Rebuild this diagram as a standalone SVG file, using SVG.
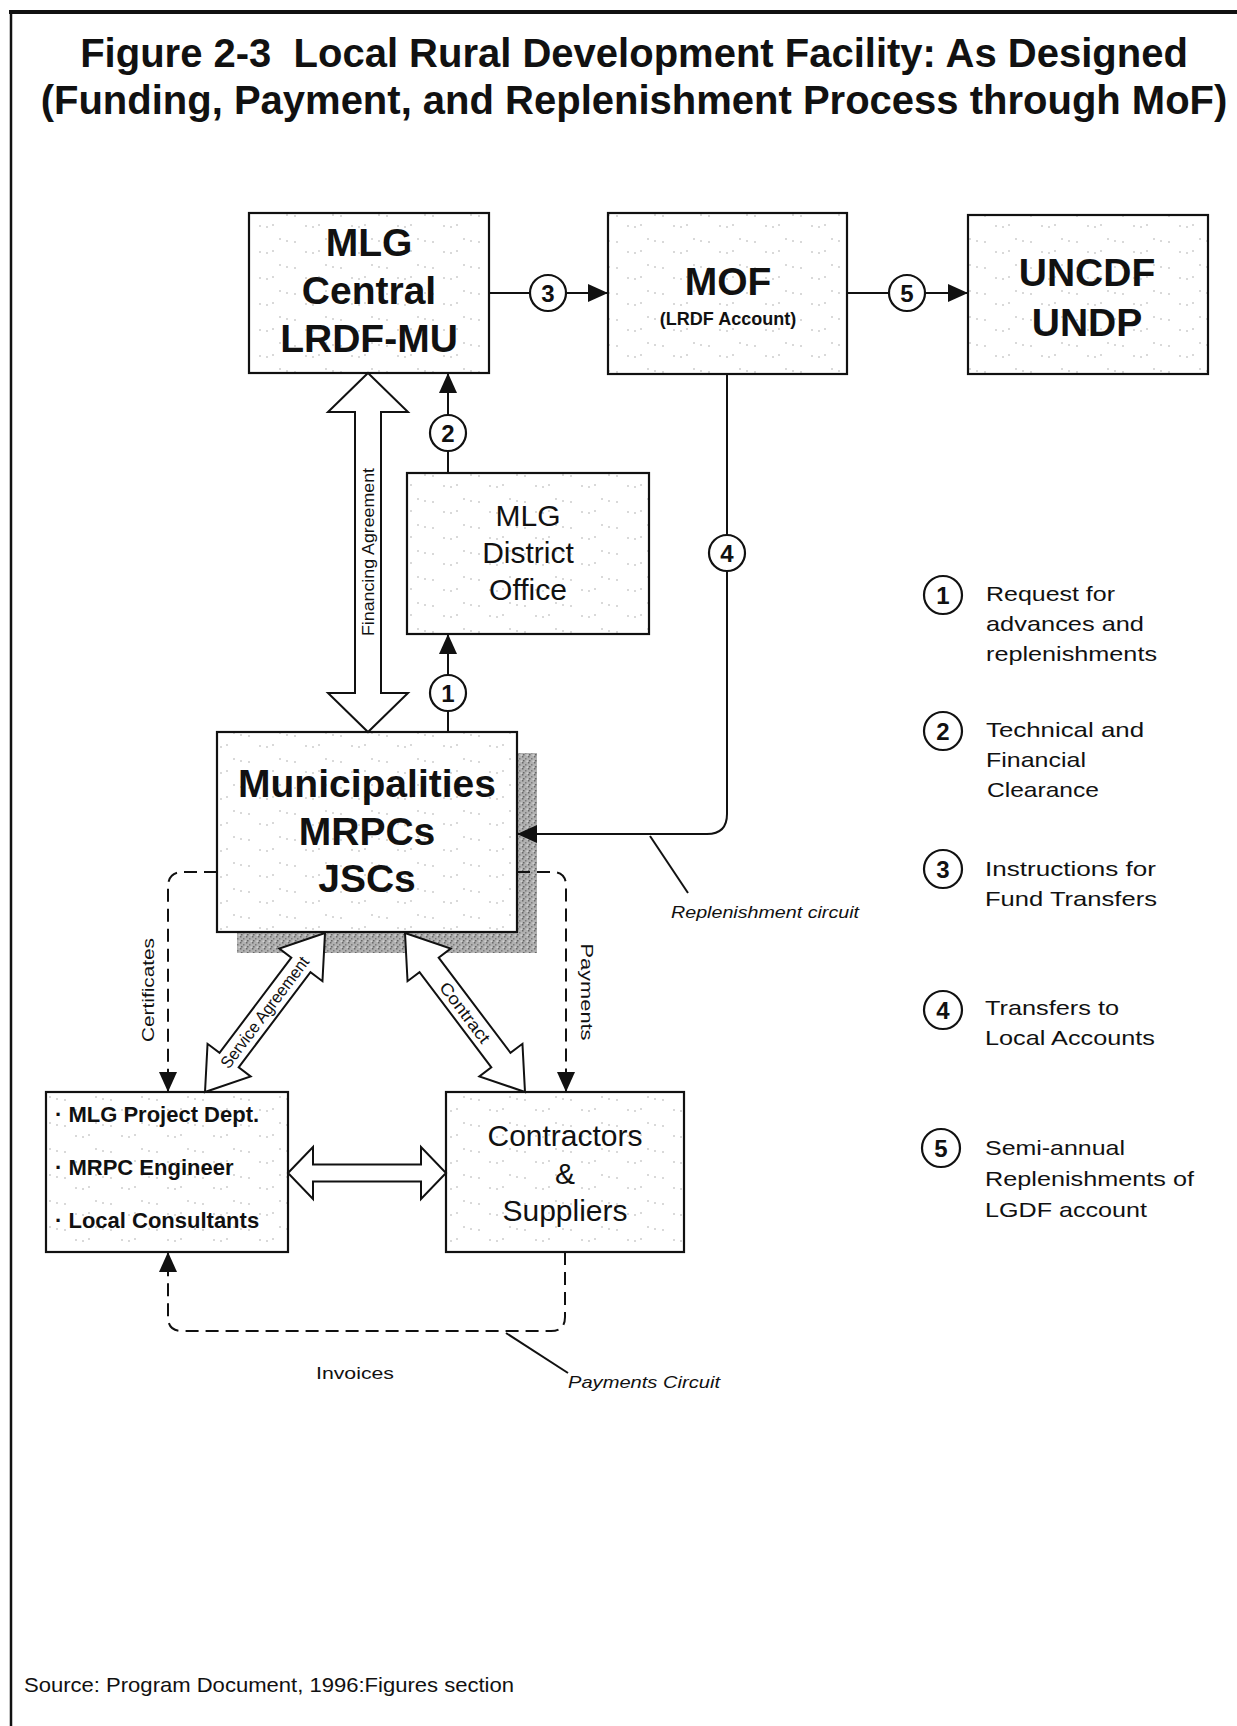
<svg xmlns="http://www.w3.org/2000/svg" width="1237" height="1726" viewBox="0 0 1237 1726">
<style>
  .box { stroke: #111; stroke-width: 2.2; fill: url(#stip); }
  .ln { stroke: #111; stroke-width: 2; fill: none; }
  .dash { stroke: #111; stroke-width: 2; fill: none; stroke-dasharray: 13 7; }
  .blk { stroke: #111; stroke-width: 2; fill: #fff; stroke-linejoin: miter; }
  .num { fill: #fff; stroke: #111; stroke-width: 2.2; }
  .numt { font-family: "Liberation Sans", Arial, sans-serif; font-weight: bold; font-size: 24px; text-anchor: middle; fill: #111; }
  .big { font-family: "Liberation Sans", Arial, sans-serif; font-weight: bold; font-size: 39px; text-anchor: middle; fill: #111; }
  .mid { font-family: "Liberation Sans", Arial, sans-serif; font-size: 30px; text-anchor: middle; fill: #111; }
  .sm { font-family: "Liberation Sans", Arial, sans-serif; font-size: 17px; fill: #111; }
  .it { font-family: "Liberation Sans", Arial, sans-serif; font-style: italic; font-size: 17px; fill: #111; }
  .leg { font-family: "Liberation Sans", Arial, sans-serif; font-size: 21px; fill: #111; }
  .title { font-family: "Liberation Sans", Arial, sans-serif; font-weight: bold; font-size: 40px; text-anchor: middle; fill: #111; }
</style>
<defs>
  <pattern id="stip" width="46" height="26" patternUnits="userSpaceOnUse">
    <rect width="46" height="26" fill="#fff"/>
    <circle cx="4" cy="5" r="0.8" fill="#aaa"/>
    <circle cx="11" cy="7" r="0.8" fill="#aaa"/>
    <circle cx="19" cy="8" r="0.8" fill="#aaa"/>
    <circle cx="30" cy="18" r="0.8" fill="#aaa"/>
    <circle cx="37" cy="19" r="0.8" fill="#aaa"/>
    <circle cx="43" cy="17" r="0.8" fill="#aaa"/>
  </pattern>
  <pattern id="grain" width="6" height="6" patternUnits="userSpaceOnUse">
    <rect width="6" height="6" fill="#b0b0b0"/>
    <rect x="0" y="0" width="1.5" height="1.5" fill="#6a6a6a"/>
    <rect x="3" y="2" width="1.5" height="1.5" fill="#7a7a7a"/>
    <rect x="1" y="4" width="1.5" height="1.5" fill="#666"/>
    <rect x="4.5" y="4.5" width="1.5" height="1.5" fill="#d0d0d0"/>
  </pattern>
  <marker id="ah" markerUnits="userSpaceOnUse" markerWidth="20" markerHeight="20" viewBox="0 0 20 20" refX="20" refY="10" orient="auto">
    <path d="M0,1 L20,10 L0,19 z" fill="#111"/>
  </marker>
  <polygon id="dbl" points="-99.6,0 -59.6,-27 -59.6,-12 59.6,-12 59.6,-27 99.6,0 59.6,27 59.6,12 -59.6,12 -59.6,27"/>
</defs>

<rect width="1237" height="1726" fill="#fff"/>

<g id="frame">
  <line x1="9" y1="12" x2="1237" y2="12" stroke="#111" stroke-width="4"/>
  <line x1="11" y1="10" x2="11" y2="1726" stroke="#111" stroke-width="2.5"/>
</g>

<g id="title">
  <text class="title" x="634" y="67">Figure 2-3&#160; Local Rural Development Facility: As Designed</text>
  <text class="title" x="634" y="114">(Funding, Payment, and Replenishment Process through MoF)</text>
</g>

<g id="node-mlg-central">
  <rect class="box" x="249" y="213" width="240" height="160"/>
  <text class="big" x="369" y="256">MLG</text>
  <text class="big" x="369" y="304">Central</text>
  <text class="big" x="369" y="352">LRDF-MU</text>
</g>

<g id="node-mof">
  <rect class="box" x="608" y="213" width="239" height="161"/>
  <text class="big" x="728" y="295">MOF</text>
  <text x="728" y="325" font-family="Liberation Sans, Arial, sans-serif" font-weight="bold" font-size="18" text-anchor="middle" fill="#111">(LRDF Account)</text>
</g>

<g id="node-uncdf">
  <rect class="box" x="968" y="215" width="240" height="159"/>
  <text class="big" x="1087" y="286">UNCDF</text>
  <text class="big" x="1087" y="336">UNDP</text>
</g>

<g id="node-district">
  <rect class="box" x="407" y="473" width="242" height="161"/>
  <text class="mid" x="528" y="526">MLG</text>
  <text class="mid" x="528" y="563">District</text>
  <text class="mid" x="528" y="600">Office</text>
</g>

<g id="node-municipalities">
  <rect x="237" y="753" width="300" height="200" fill="url(#grain)"/>
  <rect class="box" x="217" y="732" width="300" height="200"/>
  <text class="big" x="367" y="797">Municipalities</text>
  <text class="big" x="367" y="845">MRPCs</text>
  <text class="big" x="367" y="892">JSCs</text>
</g>

<g id="node-consultants">
  <rect class="box" x="46" y="1092" width="242" height="160"/>
  <text x="55" y="1122" font-family="Liberation Sans, Arial, sans-serif" font-weight="bold" font-size="22" fill="#111">· MLG Project Dept.</text>
  <text x="55" y="1175" font-family="Liberation Sans, Arial, sans-serif" font-weight="bold" font-size="22" fill="#111">· MRPC Engineer</text>
  <text x="55" y="1228" font-family="Liberation Sans, Arial, sans-serif" font-weight="bold" font-size="22" fill="#111">· Local Consultants</text>
</g>

<g id="node-contractors">
  <rect class="box" x="446" y="1092" width="238" height="160"/>
  <text class="mid" x="565" y="1146">Contractors</text>
  <text class="mid" x="565" y="1184">&amp;</text>
  <text class="mid" x="565" y="1221">Suppliers</text>
</g>

<g id="connectors">
  <!-- 3: MLG Central -> MOF -->
  <path class="ln" d="M489,293 H608" marker-end="url(#ah)"/>
  <circle class="num" cx="548" cy="293" r="18"/>
  <text class="numt" x="548" y="302">3</text>
  <!-- 5: MOF -> UNCDF -->
  <path class="ln" d="M847,293 H968" marker-end="url(#ah)"/>
  <circle class="num" cx="907" cy="293" r="18"/>
  <text class="numt" x="907" y="302">5</text>
  <!-- 2: District -> Central -->
  <path class="ln" d="M448,473 V373" marker-end="url(#ah)"/>
  <circle class="num" cx="448" cy="433" r="18"/>
  <text class="numt" x="448" y="442">2</text>
  <!-- 1: Municipalities -> District -->
  <path class="ln" d="M448,732 V634" marker-end="url(#ah)"/>
  <circle class="num" cx="448" cy="693" r="18"/>
  <text class="numt" x="448" y="702">1</text>
  <!-- 4: MOF -> Municipalities (replenishment) -->
  <path class="ln" d="M727,374 V814 Q727,834 707,834 H517" marker-end="url(#ah)"/>
  <circle class="num" cx="727" cy="553" r="18"/>
  <text class="numt" x="727" y="562">4</text>
  <line class="ln" x1="650" y1="836" x2="688" y2="893" stroke-width="1.5"/>
  <text class="it" x="671" y="918" textLength="188" lengthAdjust="spacingAndGlyphs">Replenishment circuit</text>

  <!-- Financing Agreement -->
  <polygon class="blk" points="368,373 408,412 381,412 381,693 408,693 368,732 328,693 355,693 355,412 328,412"/>
  <text class="sm" transform="translate(368,552) rotate(-90)" y="6" text-anchor="middle" textLength="168" lengthAdjust="spacingAndGlyphs">Financing Agreement</text>

  <!-- Service Agreement -->
  <use href="#dbl" class="blk" transform="translate(265,1012.5) rotate(-52.96)"/>
  <text class="sm" font-size="16" transform="translate(265,1012.5) rotate(-52.96)" y="5.5" text-anchor="middle" textLength="135" lengthAdjust="spacingAndGlyphs">Service Agreement</text>

  <!-- Contract -->
  <use href="#dbl" class="blk" transform="translate(465,1012.5) rotate(52.96)"/>
  <text class="sm" transform="translate(465,1012.5) rotate(52.96)" y="6" text-anchor="middle" textLength="72" lengthAdjust="spacingAndGlyphs">Contract</text>

  <!-- Consultants <-> Contractors -->
  <polygon class="blk" points="288,1173 313,1147 313,1164.5 421,1164.5 421,1147 446,1173 421,1199 421,1181.5 313,1181.5 313,1199"/>

  <!-- Certificates -->
  <path class="dash" d="M217,872 H183 Q168,872 168,887 V1092" marker-end="url(#ah)"/>
  <text class="sm" font-size="19" transform="translate(147,990) rotate(-90)" y="7" text-anchor="middle" textLength="104" lengthAdjust="spacingAndGlyphs">Certificates</text>

  <!-- Payments -->
  <path class="dash" d="M517,872 H552 Q566,872 566,886 V1092" marker-end="url(#ah)"/>
  <text class="sm" font-size="19" transform="translate(588,992) rotate(90)" y="7" text-anchor="middle" textLength="97" lengthAdjust="spacingAndGlyphs">Payments</text>

  <!-- Invoices / Payments circuit -->
  <path class="dash" d="M565,1252 V1317 Q565,1331 551,1331 H182 Q168,1331 168,1317 V1252" marker-end="url(#ah)"/>
  <text class="sm" font-size="19" x="316" y="1379" textLength="78" lengthAdjust="spacingAndGlyphs">Invoices</text>
  <line class="ln" x1="506" y1="1333" x2="568" y2="1373" stroke-width="1.5"/>
  <text class="it" x="568" y="1388" textLength="152" lengthAdjust="spacingAndGlyphs">Payments Circuit</text>
</g>

<g id="legend">
  <circle class="num" cx="943" cy="595" r="19"/>
  <text class="numt" x="943" y="604">1</text>
  <text class="leg" x="986" y="601" textLength="129" lengthAdjust="spacingAndGlyphs">Request for</text>
  <text class="leg" x="986" y="631" textLength="158" lengthAdjust="spacingAndGlyphs">advances and</text>
  <text class="leg" x="986" y="661" textLength="171" lengthAdjust="spacingAndGlyphs">replenishments</text>

  <circle class="num" cx="943" cy="731" r="19"/>
  <text class="numt" x="943" y="740">2</text>
  <text class="leg" x="986" y="737" textLength="158" lengthAdjust="spacingAndGlyphs">Technical and</text>
  <text class="leg" x="986" y="767" textLength="100" lengthAdjust="spacingAndGlyphs">Financial</text>
  <text class="leg" x="987" y="797" textLength="112" lengthAdjust="spacingAndGlyphs">Clearance</text>

  <circle class="num" cx="943" cy="869" r="19"/>
  <text class="numt" x="943" y="878">3</text>
  <text class="leg" x="985" y="876" textLength="171" lengthAdjust="spacingAndGlyphs">Instructions for</text>
  <text class="leg" x="985" y="906" textLength="172" lengthAdjust="spacingAndGlyphs">Fund Transfers</text>

  <circle class="num" cx="943" cy="1010" r="19"/>
  <text class="numt" x="943" y="1019">4</text>
  <text class="leg" x="985" y="1015" textLength="134" lengthAdjust="spacingAndGlyphs">Transfers to</text>
  <text class="leg" x="985" y="1045" textLength="170" lengthAdjust="spacingAndGlyphs">Local Accounts</text>

  <circle class="num" cx="941" cy="1148" r="19"/>
  <text class="numt" x="941" y="1157">5</text>
  <text class="leg" x="985" y="1155" textLength="140" lengthAdjust="spacingAndGlyphs">Semi-annual</text>
  <text class="leg" x="985" y="1186" textLength="209" lengthAdjust="spacingAndGlyphs">Replenishments of</text>
  <text class="leg" x="985" y="1217" textLength="162" lengthAdjust="spacingAndGlyphs">LGDF account</text>
</g>

<g id="source">
  <text x="24" y="1692" font-family="Liberation Sans, Arial, sans-serif" font-size="21" fill="#111" textLength="490" lengthAdjust="spacingAndGlyphs">Source: Program Document, 1996:Figures section</text>
</g>
</svg>
